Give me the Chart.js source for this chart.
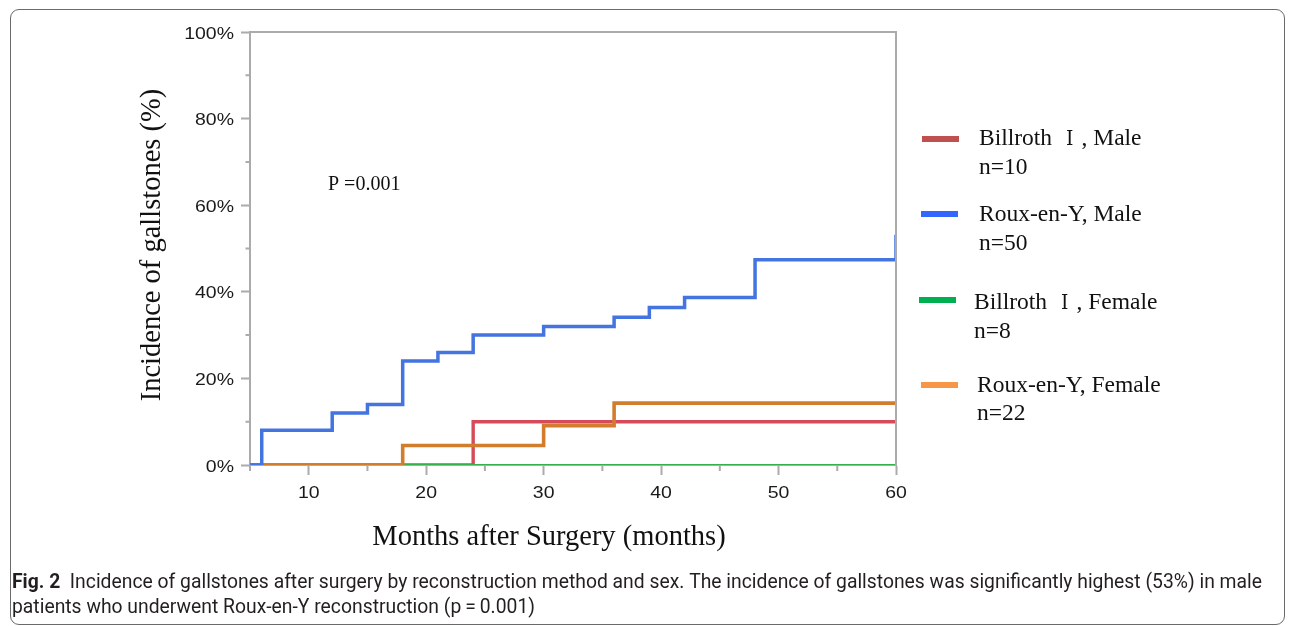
<!DOCTYPE html>
<html><head><meta charset="utf-8">
<script src="https://cdn.jsdelivr.net/npm/chart.js@4.4.0/dist/chart.umd.min.js"></script>
<style>
html,body{margin:0;padding:0;background:#fff;width:1292px;height:626px;overflow:hidden;}
#frame{position:absolute;left:10px;top:9px;width:1273px;height:614px;border:1px solid #6a6a6a;border-radius:9px;}
#c{position:absolute;left:0;top:0;}
</style></head><body>
<div id="frame"></div>
<canvas id="c" width="1292" height="626"></canvas>
<script>
// ---- data ----
const monthsRYMale   = [5, 6, 12, 15, 18, 21, 24, 30, 36, 39, 42, 48, 60];
const incRYMale      = [0, 8, 12, 14, 24, 26, 30, 32, 34.1, 36.4, 38.7, 47.4, 53.2];
const monthsRYFemale = [5, 18, 30, 36, 60];
const incRYFemale    = [0, 4.5, 9.1, 14.3, 14.3];
const monthsB1Male   = [5, 24, 60];
const incB1Male      = [0, 10, 10];
const monthsB1Female = [5, 60];
const incB1Female    = [0, 0];
const xTickLabels = [10, 20, 30, 40, 50, 60];
const yTickLabels = [0, 20, 40, 60, 80, 100];
const legendLabels = ['Billroth \u2160, Male', 'Roux-en-Y, Male', 'Billroth \u2160, Female', 'Roux-en-Y, Female'];
const legendN = ['n=10', 'n=50', 'n=8', 'n=22'];
const pValueText = 'P =0.001';
const xTitle = 'Months after Surgery (months)';
const yTitle = 'Incidence of gallstones (%)';
const captionBold = 'Fig. 2';
const captionLine1 = '  Incidence of gallstones after surgery by reconstruction method and sex. The incidence of gallstones was significantly highest (53%) in male';
const captionLine2 = 'patients who underwent Roux-en-Y reconstruction (p\u2009=\u20090.001)';

const AXIS = '#ababab';
const pts = (xs, ys) => xs.map((x, i) => ({x: x, y: ys[i]}));

function stretchText(ctx, txt, x, y, align, sx) {
  ctx.save(); ctx.translate(x, y); ctx.scale(sx, 1);
  ctx.textAlign = align; ctx.fillText(txt, 0, 0); ctx.restore();
}
// roman numeral drawn in a serif face, centred in a full-width (1em) cell
function drawMixed(ctx, text, x, y, size) {
  const parts = text.split('\u2160');
  let cx = x;
  ctx.textAlign = 'left';
  parts.forEach((p, i) => {
    ctx.font = size + 'px "Liberation Serif"';
    ctx.fillText(p, cx, y); cx += ctx.measureText(p).width;
    if (i < parts.length - 1) {
      ctx.font = size + 'px "DejaVu Serif"';
      ctx.save(); ctx.translate(cx + size / 2, y); ctx.scale(0.8, 0.86);
      ctx.textAlign = 'center'; ctx.fillText('\u2160', 0, 0); ctx.restore();
      ctx.textAlign = 'left';
      cx += size;
    }
  });
}

const overlay = {
  id: 'overlay',
  afterDraw(chart) {
    const ctx = chart.ctx, xs = chart.scales.x, ys = chart.scales.y, a = chart.chartArea;
    ctx.save();
    // top & right frame of plot
    ctx.strokeStyle = AXIS; ctx.lineWidth = 2;
    ctx.beginPath(); ctx.moveTo(a.left - 1, a.top); ctx.lineTo(a.right, a.top); ctx.lineTo(a.right, a.bottom + 1); ctx.stroke();
    // minor ticks
    ctx.beginPath();
    [10, 30, 50, 70, 90].forEach(v => { const p = ys.getPixelForValue(v); ctx.moveTo(a.left - 4.5, p); ctx.lineTo(a.left, p); });
    [5, 15, 25, 35, 45, 55].forEach(v => { const p = xs.getPixelForValue(v); ctx.moveTo(p, a.bottom); ctx.lineTo(p, a.bottom + 6); });
    ctx.stroke();
    // tick labels
    ctx.fillStyle = '#1a1a1a';
    ctx.font = '16.5px "Liberation Sans"';
    ctx.textBaseline = 'alphabetic';
    yTickLabels.forEach(v => stretchText(ctx, v + '%', a.left - 16, ys.getPixelForValue(v) + 6.5, 'right', 1.18));
    xTickLabels.forEach(v => stretchText(ctx, String(v), xs.getPixelForValue(v), a.bottom + 33, 'center', 1.18));
    // axis titles
    ctx.fillStyle = '#111';
    ctx.font = '28.5px "Liberation Serif"';
    ctx.textAlign = 'center';
    ctx.fillText(xTitle, 549, 545);
    ctx.save(); ctx.translate(160, 245); ctx.rotate(-Math.PI / 2); ctx.fillText(yTitle, 0, 0); ctx.restore();
    // p value
    ctx.font = '20px "Liberation Serif"'; ctx.textAlign = 'left';
    ctx.fillText(pValueText, 328, 190);
    // legend
    const swCol = ['#c0504d', '#3366ff', '#00b050', '#f79646'];
    const swX = [922, 921, 919, 921], swY = [136, 211, 297, 382];
    const txX = [979, 979, 974, 977], txY = [145, 221, 309, 391.5], nY = [173.5, 250, 337.5, 420];
    legendLabels.forEach((lab, i) => {
      ctx.fillStyle = swCol[i]; ctx.fillRect(swX[i], swY[i], 37, 6);
      ctx.fillStyle = '#111';
      drawMixed(ctx, lab, txX[i], txY[i], 23.5);
      ctx.font = '23.5px "Liberation Serif"';
      ctx.fillText(legendN[i], txX[i], nY[i]);
    });
    // caption (condensed sans)
    ctx.fillStyle = '#231f20';
    const bf = 'bold 21px Roboto', rf = '21px Roboto';
    ctx.font = bf; const wb = ctx.measureText(captionBold).width;
    ctx.font = rf; const w1 = ctx.measureText(captionLine1).width;
    const sx = 1250 / (wb + w1);
    ctx.save(); ctx.translate(12, 588); ctx.scale(sx, 1);
    ctx.textAlign = 'left';
    ctx.font = bf; ctx.fillText(captionBold, 0, 0);
    ctx.font = rf; ctx.fillText(captionLine1, wb, 0);
    ctx.restore();
    ctx.save(); ctx.translate(12, 613); ctx.scale(sx, 1);
    ctx.font = rf; ctx.fillText(captionLine2, 0, 0);
    ctx.restore();
    ctx.restore();
  }
};

new Chart(document.getElementById('c'), {
  type: 'line',
  data: {
    datasets: [
      {label: legendLabels[1], data: pts(monthsRYMale, incRYMale), borderColor: '#4374e0', borderWidth: 3.5, order: 0},
      {label: legendLabels[3], data: pts(monthsRYFemale, incRYFemale), borderColor: '#d27c2e', borderWidth: 3.6, order: 1},
      {label: legendLabels[2], data: pts(monthsB1Female, incB1Female), borderColor: '#35b04a', borderWidth: 2, order: 2},
      {label: legendLabels[0], data: pts(monthsB1Male, incB1Male), borderColor: '#d64b5a', borderWidth: 3.4, order: 3}
    ]
  },
  options: {
    responsive: false, animation: false, devicePixelRatio: 1,
    layout: {padding: {left: 150, top: 32, right: 396, bottom: 100}},
    elements: {point: {radius: 0}, line: {tension: 0, stepped: true, fill: false}},
    plugins: {legend: {display: false}, tooltip: {enabled: false}},
    scales: {
      x: {
        type: 'linear', min: 5, max: 60,
        ticks: {stepSize: 5, display: false},
        grid: {drawOnChartArea: false, drawTicks: true, tickLength: 10, tickWidth: 2, color: AXIS,
               tickColor: c => (c.tick && c.tick.value % 10 === 0) ? AXIS : 'rgba(0,0,0,0)'},
        border: {display: true, color: AXIS, width: 2},
        afterFit: s => { s.height = 61; }
      },
      y: {
        type: 'linear', min: 0, max: 100,
        ticks: {stepSize: 10, display: false},
        grid: {drawOnChartArea: false, drawTicks: true, tickLength: 9, tickWidth: 2, color: AXIS,
               tickColor: c => (c.tick && c.tick.value % 20 === 0) ? AXIS : 'rgba(0,0,0,0)'},
        border: {display: true, color: AXIS, width: 2},
        afterFit: s => { s.width = 100; }
      }
    }
  },
  plugins: [overlay]
});
</script>
</body></html>
